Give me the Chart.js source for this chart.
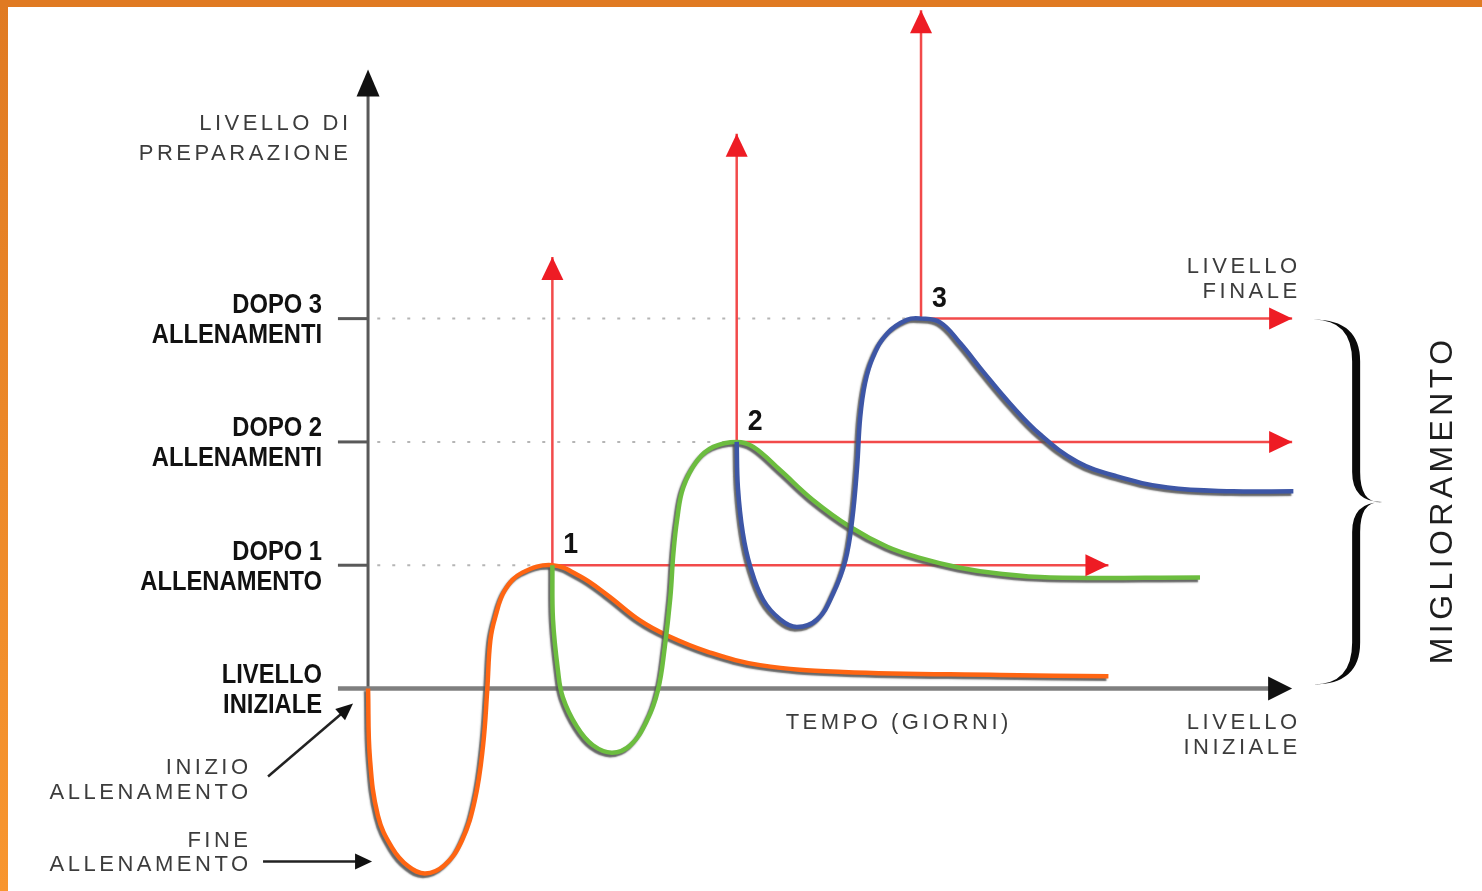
<!DOCTYPE html>
<html>
<head>
<meta charset="utf-8">
<script src="https://cdn.jsdelivr.net/npm/chart.js@4.4.1/dist/chart.umd.min.js"></script>
<style>
  html, body { margin: 0; padding: 0; background: #fff; }
  #wrap { width: 1482px; height: 891px; position: relative; }
</style>
</head>
<body>
<div id="wrap"><canvas id="chart"></canvas></div>
<script>
// asse y: livelli di preparazione, asse x: tempo (giorni)
const levelValues = [0, 1, 2, 3];
const levelLabels = [
  ["LIVELLO", "INIZIALE"],
  ["DOPO 1", "ALLENAMENTO"],
  ["DOPO 2", "ALLENAMENTI"],
  ["DOPO 3", "ALLENAMENTI"]
];
const peakLabels = ["1", "2", "3"];
const peakDays = [3, 6, 9];
const upTips = [3.5, 4.5, 5.5];
const rightTips = [12.05, 15.04, 15.04];

// curve [giorno, livello]
const orangeCurve = [
  [0, 0], [0.03, -0.56], [0.16, -1.03], [0.39, -1.29], [0.65, -1.44], [0.93, -1.5],
  [1.25, -1.43], [1.53, -1.23], [1.74, -0.9], [1.87, -0.47], [1.94, -0.01], [1.99, 0.39],
  [2.07, 0.58], [2.23, 0.8], [2.51, 0.94], [3, 1], [3.45, 0.91], [3.89, 0.76],
  [4.43, 0.55], [4.87, 0.43], [5.52, 0.3], [6.38, 0.19], [7.73, 0.135], [10.29, 0.11], [12.05, 0.1]
];
const greenCurve = [
  [3, 1], [3.01, 0.56], [3.09, 0.15], [3.17, -0.07], [3.4, -0.31], [3.66, -0.46],
  [3.97, -0.52], [4.27, -0.46], [4.54, -0.26], [4.72, -0.01], [4.83, 0.34], [4.92, 0.74],
  [4.97, 1.1], [5.03, 1.37], [5.13, 1.63], [5.36, 1.85], [5.62, 1.96], [6, 2],
  [6.27, 1.96], [6.71, 1.77], [7.24, 1.53], [7.85, 1.31], [8.45, 1.15], [8.98, 1.06],
  [9.63, 0.98], [10.29, 0.93], [11.1, 0.9], [13.54, 0.9]
];
const blueCurve = [
  [6, 2], [6.02, 1.63], [6.1, 1.26], [6.22, 0.99], [6.43, 0.72], [6.71, 0.56],
  [6.98, 0.5], [7.31, 0.56], [7.57, 0.77], [7.77, 1.04], [7.88, 1.37], [7.96, 1.8],
  [8.01, 2.2], [8.09, 2.48], [8.22, 2.69], [8.45, 2.88], [8.77, 2.99], [9, 3],
  [9.31, 2.97], [9.64, 2.8], [10.01, 2.57], [10.45, 2.31], [10.94, 2.06], [11.54, 1.84],
  [12.19, 1.72], [13.01, 1.63], [14.08, 1.6], [15.06, 1.6]
];

const X_MIN = -5.99, X_MAX = 18.13, Y_MIN = -1.642, Y_MAX = 5.584;
const Y_AXIS_TOP = 5.02, X_AXIS_END = 15.04, TICK_START = -0.49;

const pts = arr => arr.map(p => ({ x: p[0], y: p[1] }));

const datasets = [];
[[blueCurve, '#3d56a6'], [greenCurve, '#6cbd3f'], [orangeCurve, '#ff6512']].forEach(([c, col]) => {
  datasets.push({
    data: pts(c), borderColor: col, borderWidth: 4.5, tension: 0.4,
    pointRadius: 0, fill: false, order: 0, shadow: true, clip: false
  });
});
peakDays.forEach((d, i) => {
  const lv = levelValues[i + 1];
  datasets.push({ data: [{ x: d, y: lv }, { x: d, y: upTips[i] }], borderColor: '#f24a4a',
    borderWidth: 2.5, pointRadius: 0, order: 1, arrow: true, clip: false });
  datasets.push({ data: [{ x: d, y: lv }, { x: rightTips[i], y: lv }], borderColor: '#f24a4a',
    borderWidth: 2.5, pointRadius: 0, order: 1, arrow: true, clip: false });
  datasets.push({ data: [{ x: 0.15, y: lv }, { x: d, y: lv }], borderColor: '#b5b5b5',
    borderWidth: 2, borderDash: [3, 12], pointRadius: 0, order: 2, clip: false });
});

function arrowHead(ctx, x, y, a, len, w, color) {
  ctx.save();
  ctx.translate(x, y);
  ctx.rotate(a);
  ctx.beginPath();
  ctx.moveTo(0, 0);
  ctx.lineTo(-len, -w);
  ctx.lineTo(-len, w);
  ctx.closePath();
  ctx.fillStyle = color;
  ctx.fill();
  ctx.restore();
}

function seg(ctx, x1, y1, x2, y2, color, width) {
  ctx.save();
  ctx.strokeStyle = color;
  ctx.lineWidth = width;
  ctx.beginPath();
  ctx.moveTo(x1, y1);
  ctx.lineTo(x2, y2);
  ctx.stroke();
  ctx.restore();
}

function label(ctx, lines, x, y, o) {
  ctx.save();
  ctx.font = o.font;
  ctx.fillStyle = o.color;
  ctx.textAlign = o.align || 'left';
  const sp = o.spacing || 0;
  ctx.letterSpacing = sp + 'px';
  lines.forEach((t, i) => {
    ctx.save();
    let dx = 0;
    if (o.align === 'right') dx = sp;
    if (o.align === 'center') dx = sp / 2;
    ctx.translate(x + dx, y + i * (o.lh || 0));
    ctx.scale(o.sx || 1, 1);
    ctx.fillText(t, 0, 0);
    ctx.restore();
  });
  ctx.restore();
}

const GRAY_TEXT = { font: '22px "Liberation Sans", Arial, sans-serif', color: '#3c3c3c', spacing: 3.5, align: 'right' };

const shadowPlugin = {
  id: 'shadow',
  beforeDatasetDraw(chart, args) {
    const ds = chart.data.datasets[args.index];
    if (!ds.shadow) return;
    const ctx = chart.ctx;
    ctx.save();
    ctx.shadowColor = 'rgba(85,85,85,0.9)';
    ctx.shadowOffsetX = -2;
    ctx.shadowOffsetY = 2.5;
    ctx.shadowBlur = 1.5;
  },
  afterDatasetDraw(chart, args) {
    const ds = chart.data.datasets[args.index];
    if (ds.shadow) chart.ctx.restore();
  }
};

const diagramPlugin = {
  id: 'diagram',
  beforeDatasetsDraw(chart) {
    const ctx = chart.ctx, xs = chart.scales.x, ys = chart.scales.y;
    const x0 = xs.getPixelForValue(0), y0 = ys.getPixelForValue(0);
    const yTop = ys.getPixelForValue(Y_AXIS_TOP), xEnd = xs.getPixelForValue(X_AXIS_END);
    const tx = xs.getPixelForValue(TICK_START);
    // asse y
    seg(ctx, x0, y0, x0, yTop + 20, '#595959', 3);
    arrowHead(ctx, x0, yTop, -Math.PI / 2, 27, 11.5, '#111');
    // tacche
    levelValues.slice(1).forEach(v => seg(ctx, tx, ys.getPixelForValue(v), x0, ys.getPixelForValue(v), '#595959', 3));
    // asse x
    seg(ctx, tx, y0, xEnd - 18, y0, '#7f7f7f', 4.5);
    arrowHead(ctx, xEnd, y0, 0, 24, 12, '#111');
  },
  afterDatasetsDraw(chart) {
    const ctx = chart.ctx, xs = chart.scales.x, ys = chart.scales.y;
    const x0 = xs.getPixelForValue(0), y0 = ys.getPixelForValue(0);
    const yTop = ys.getPixelForValue(Y_AXIS_TOP), xEnd = xs.getPixelForValue(X_AXIS_END);

    // punte delle frecce rosse
    chart.data.datasets.forEach((ds, i) => {
      if (!ds.arrow) return;
      const pts = chart.getDatasetMeta(i).data;
      const a = pts[pts.length - 2], b = pts[pts.length - 1];
      arrowHead(ctx, b.x, b.y, Math.atan2(b.y - a.y, b.x - a.x), 23, 11, '#ee1c24');
    });

    // etichette livelli
    levelValues.forEach((v, i) => {
      const y = ys.getPixelForValue(v);
      label(ctx, levelLabels[i], x0 - 46, y - 5.5, {
        font: 'bold 27px "Liberation Sans", Arial, sans-serif', color: '#111',
        align: 'right', lh: 30, sx: 0.88
      });
    });

    // numeri dei picchi
    peakDays.forEach((d, i) => {
      label(ctx, [peakLabels[i]], xs.getPixelForValue(d) + 11, ys.getPixelForValue(levelValues[i + 1]) - 12, {
        font: 'bold 29px "Liberation Sans", Arial, sans-serif', color: '#111', sx: 0.92
      });
    });

    // testi grigi
    label(ctx, ["LIVELLO DI", "PREPARAZIONE"], x0 - 20, yTop + 60, Object.assign({ lh: 30 }, GRAY_TEXT));
    label(ctx, ["LIVELLO", "FINALE"], xEnd + 5, ys.getPixelForValue(3) - 46, Object.assign({ lh: 25 }, GRAY_TEXT));
    label(ctx, ["LIVELLO", "INIZIALE"], xEnd + 5, y0 + 40, Object.assign({ lh: 25 }, GRAY_TEXT));
    label(ctx, ["TEMPO (GIORNI)"], x0 + 529, y0 + 40, Object.assign({}, GRAY_TEXT, { align: 'center' }));
    label(ctx, ["INIZIO", "ALLENAMENTO"], x0 - 120, y0 + 85, Object.assign({ lh: 25 }, GRAY_TEXT));
    label(ctx, ["FINE", "ALLENAMENTO"], x0 - 120, y0 + 158, Object.assign({ lh: 24 }, GRAY_TEXT));

    // frecce nere di annotazione
    seg(ctx, x0 - 100, y0 + 88, x0 - 24, y0 + 23, '#222', 2.5);
    arrowHead(ctx, x0 - 15, y0 + 15, Math.atan2(-73, 85), 17, 7.5, '#111');
    seg(ctx, x0 - 105, y0 + 173, x0 - 10, y0 + 173, '#222', 2.5);
    arrowHead(ctx, x0 + 4, y0 + 173, 0, 17, 8, '#111');

    // parentesi graffa
    const bx0 = xEnd + 21, bxs = xEnd + 64, bxt = xEnd + 90;
    const byT = ys.getPixelForValue(3) + 1, byB = y0 - 4, byM = (byT + byB) / 2;
    const w = 4, r = 42, r2 = 30;
    ctx.save();
    ctx.fillStyle = '#0a0a0a';
    ctx.beginPath();
    ctx.moveTo(bx0, byT);
    ctx.quadraticCurveTo(bxs - w, byT, bxs - w, byT + r);
    ctx.lineTo(bxs - w, byM - r2);
    ctx.quadraticCurveTo(bxs - w, byM, bxt, byM);
    ctx.quadraticCurveTo(bxs - w, byM, bxs - w, byM + r2);
    ctx.lineTo(bxs - w, byB - r);
    ctx.quadraticCurveTo(bxs - w, byB, bx0, byB);
    ctx.quadraticCurveTo(bxs + w, byB, bxs + w, byB - r);
    ctx.lineTo(bxs + w, byM + r2);
    ctx.quadraticCurveTo(bxs + w, byM - 2, bxt, byM);
    ctx.quadraticCurveTo(bxs + w, byM + 2, bxs + w, byM - r2);
    ctx.lineTo(bxs + w, byT + r);
    ctx.quadraticCurveTo(bxs + w, byT, bx0, byT);
    ctx.closePath();
    ctx.fill();
    ctx.restore();

    // MIGLIORAMENTO
    ctx.save();
    ctx.translate(xEnd + 160, byM);
    ctx.rotate(-Math.PI / 2);
    ctx.font = '32px "Liberation Sans", Arial, sans-serif';
    ctx.fillStyle = '#1e1e1e';
    ctx.textAlign = 'center';
    ctx.letterSpacing = '4.4px';
    ctx.fillText("MIGLIORAMENTO", 2.2, 0);
    ctx.restore();
  },
  afterDraw(chart) {
    const ctx = chart.ctx, W = chart.width, H = chart.height;
    ctx.save();
    const g = ctx.createLinearGradient(0, 0, 0, H);
    g.addColorStop(0, '#e07a22');
    g.addColorStop(1, '#f8962f');
    ctx.fillStyle = g;
    ctx.fillRect(0, 0, 8, H);
    ctx.fillStyle = '#e07a22';
    ctx.fillRect(0, 0, W, 7);
    ctx.restore();
  }
};

new Chart(document.getElementById('chart'), {
  type: 'line',
  data: { datasets: datasets },
  options: {
    responsive: true,
    maintainAspectRatio: false,
    animation: false,
    events: [],
    layout: { padding: 0 },
    plugins: { legend: { display: false }, tooltip: { enabled: false } },
    scales: {
      x: { type: 'linear', display: false, min: X_MIN, max: X_MAX },
      y: { type: 'linear', display: false, min: Y_MIN, max: Y_MAX }
    }
  },
  plugins: [shadowPlugin, diagramPlugin]
});
</script>
</body>
</html>
